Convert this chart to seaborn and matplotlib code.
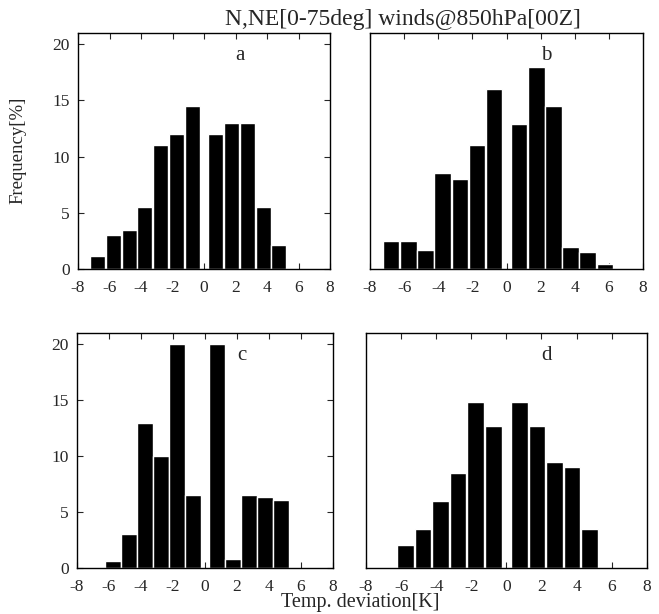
import numpy as np
import matplotlib
matplotlib.use('Agg')
import matplotlib.pyplot as plt
import seaborn as sns

sns.set_style('white')
plt.rcParams['font.family'] = ['Liberation Serif', 'DejaVu Serif']

# bin centres [K]; no bin centred on 0 (gap between -0.75 and 0.75)
centers_a = [-6.75, -5.75, -4.75, -3.75, -2.75, -1.75, -0.75, 0.75, 1.75, 2.75, 3.75, 4.75]
freq_a = [1.2, 3.0, 3.5, 5.5, 11.0, 12.0, 14.5, 12.0, 13.0, 13.0, 5.5, 2.1]

centers_b = [-6.75, -5.75, -4.75, -3.75, -2.75, -1.75, -0.75, 0.75, 1.75, 2.75, 3.75, 4.75, 5.75]
freq_b = [2.5, 2.5, 1.7, 8.5, 8.0, 11.0, 16.0, 12.9, 18.0, 14.5, 2.0, 1.5, 0.45]

centers_c = [-5.75, -4.75, -3.75, -2.75, -1.75, -0.75, 0.75, 1.75, 2.75, 3.75, 4.75]
freq_c = [0.6, 3.0, 13.0, 10.0, 20.0, 6.5, 20.0, 0.8, 6.5, 6.3, 6.1]

centers_d = [-5.75, -4.75, -3.75, -2.75, -1.75, -0.75, 0.75, 1.75, 2.75, 3.75, 4.75]
freq_d = [2.0, 3.5, 6.0, 8.5, 14.8, 12.7, 14.8, 12.7, 9.5, 9.0, 3.5]

panel_labels = ['a', 'b', 'c', 'd']
xticks = [-8, -6, -4, -2, 0, 2, 4, 6, 8]
yticks = [0, 5, 10, 15, 20]

fig = plt.figure(figsize=(6.59, 6.14), dpi=100)

# axes boxes [left, bottom, width, height] in figure fraction
boxes = [
    [0.1184, 0.5619, 0.3824, 0.3844],
    [0.5615, 0.5619, 0.4143, 0.3844],
    [0.1168, 0.0754, 0.3885, 0.3818],
    [0.5554, 0.0754, 0.4259, 0.3818],
]
data = [(centers_a, freq_a), (centers_b, freq_b), (centers_c, freq_c), (centers_d, freq_d)]

for i, (box, (xc, yv)) in enumerate(zip(boxes, data)):
    ax = fig.add_axes(box)
    sns.barplot(x=xc, y=yv, native_scale=True, color='black', saturation=1,
                width=0.95, ax=ax)
    ax.set_xlim(-8, 8)
    ax.set_ylim(0, 21)
    ax.set_xticks(xticks)
    ax.set_xticklabels([str(t) for t in xticks])
    ax.set_xlabel('')
    ax.set_ylabel('')
    for sp in ax.spines.values():
        sp.set_visible(True)
        sp.set_color('black')
        sp.set_linewidth(1.0)
    left_col = (i % 2 == 0)
    if left_col:
        ax.set_yticks(yticks)
        ax.tick_params(axis='y', direction='in', length=4, left=True, right=True,
                       labelsize=12.5, pad=6)
    else:
        ax.set_yticks([])
    ax.tick_params(axis='x', direction='in', length=4, bottom=True, top=True,
                   labelsize=12.5, pad=8)
    ax.text(2.3, 19, panel_labels[i], fontsize=15, ha='center', va='center')

fig.text(0.612, 0.969, 'N,NE[0-75deg] winds@850hPa[00Z]', fontsize=17,
         ha='center', va='center')
fig.text(0.028, 0.756, 'Frequency[%]', fontsize=13.5, rotation=90,
         ha='center', va='center')
fig.text(0.546, 0.018, 'Temp. deviation[K]', fontsize=14.5,
         ha='center', va='center')

fig.savefig('out.png', dpi=100)
